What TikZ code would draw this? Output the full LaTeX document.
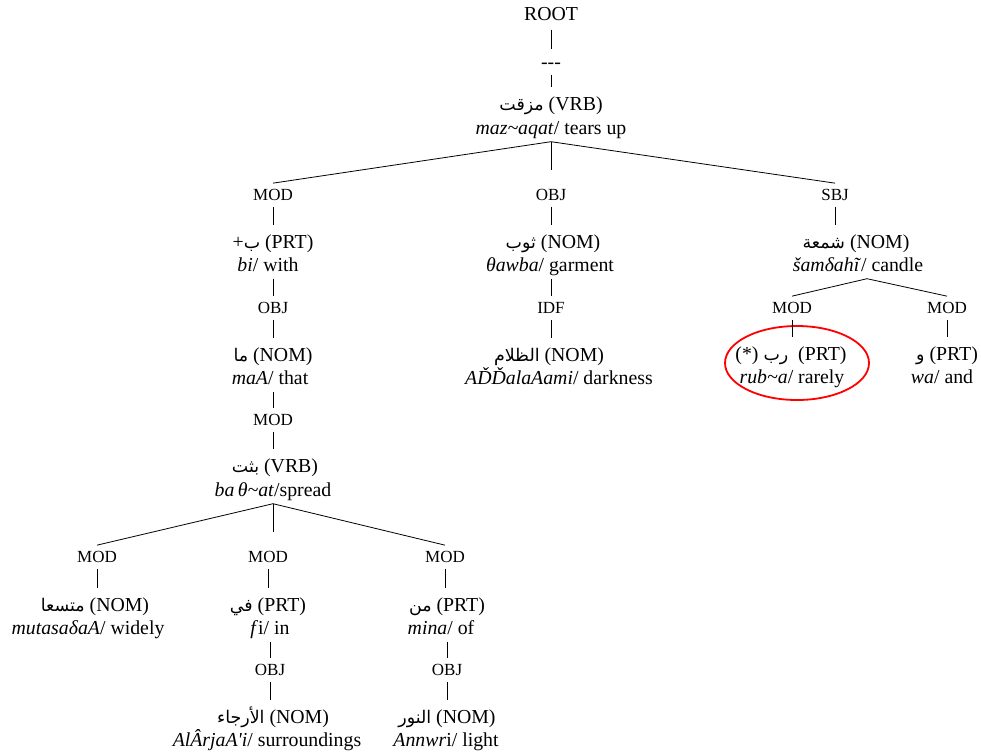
\documentclass[tikz,border=0pt]{standalone}
\usepackage{fontspec}
\setmainfont{Liberation Serif}
\newfontfamily\ar[Script=Arabic,Scale=0.88]{DejaVu Sans}
\TeXXeTstate=1
\usetikzlibrary{shapes.geometric}
\begin{document}
\begin{tikzpicture}[x=1pt,y=-1pt,
  w/.style={font=\fontsize{19.8}{23}\selectfont, inner xsep=1pt, inner ysep=6pt, text height=13pt, text depth=0pt},
  lab/.style={font=\fontsize{17}{20}\selectfont, inner xsep=1pt, inner ysep=6pt, text height=11.3pt, text depth=0pt},
  wt/.style={w, inner ysep=10pt},
  wb/.style={w, inner ysep=7pt},
  link/.style={line width=0.8pt},
  mid/.style={link, shorten >=13pt},
]
\fill[white] (0,0) rectangle (981,753);
\useasboundingbox (0,0) rectangle (981,753);

% top
\node[w, inner ysep=9pt] (root) at (551,14) {ROOT};
\node[w] (dash) at (551,62) {-{}-{}-};
\node[wt] (v1a) at (551,104) {{\ar\beginR مزقت\endR} (VRB)};
\node[wb] (v1b) at (551,128) {\textit{maz\textasciitilde aqat}/ tears up};

\node[lab] (mod1) at (273,195) {MOD};
\node[lab] (obj1) at (551,195) {OBJ};
\node[lab] (sbj) at (835,195) {SBJ};

% left branch
\node[wt] (bia) at (273,242) {+{\ar\beginR ب\endR} (PRT)};
\node[wb] (bib) at (268,265) {\textit{bi}/ with};
\node[lab] (obj2) at (273,308) {OBJ};
\node[wt] (maa) at (273,355) {{\ar\beginR ما\endR} (NOM)};
\node[wb] (mab) at (270,378) {\textit{maA}/ that};
\node[lab] (mod2) at (273,420) {MOD};
\node[wt] (bta) at (275,466) {{\ar\beginR بثت\endR} (VRB)};
\node[wb] (btb) at (273,490) {\textit{ba\,θ\textasciitilde at}/spread};

\node[lab] (mod3) at (97,557) {MOD};
\node[lab] (mod4) at (268,557) {MOD};
\node[lab] (mod5) at (445,557) {MOD};

\node[wt] (mua) at (95,605) {{\ar\beginR متسعا\endR} (NOM)};
\node[wb] (mub) at (88,628) {\textit{mutasaδaA}/ widely};
\node[wt] (fia) at (268,605) {{\ar\beginR في\endR} (PRT)};
\node[wb] (fib) at (270,628) {\textit{f}i/ in};
\node[wt] (mia) at (447,605) {{\ar\beginR من\endR} (PRT)};
\node[wb] (mib) at (441,628) {\textit{mina}/ of};

\node[lab] (obj3) at (270,670) {OBJ};
\node[lab] (obj4) at (447,670) {OBJ};
\node[wt] (ara) at (273,717) {{\ar\beginR الأرجاء\endR} (NOM)};
\node[wb] (arb) at (267,740) {\textit{AlÂrjaA\textquotesingle i}/ surroundings};
\node[wt] (ana) at (447,717) {{\ar\beginR النور\endR} (NOM)};
\node[wb] (anb) at (446,740) {\textit{Annwr}i/ light};

% middle branch
\node[wt] (tha) at (553,242) {{\ar\beginR ثوب\endR} (NOM)};
\node[wb] (thb) at (550,265) {\textit{θawba}/ garment};
\node[lab] (idf) at (551,308) {IDF};
\node[wt] (zaa) at (549,355) {{\ar\beginR الظلام\endR} (NOM)};
\node[wb] (zab) at (559,378) {\textit{AĎĎalaAami}/ darkness};

% right branch
\node[wt] (sha) at (856,242) {{\ar\beginR شمعة\endR} (NOM)};
\node[wb] (shb) at (858,265) {\textit{šamδahĩ}/ candle};
\node[lab] (mod6) at (792,308) {MOD};
\node[lab] (mod7) at (947,308) {MOD};
\node[wt] (rua) at (791,354) {(*) {\ar\beginR رب\endR}\ \ (PRT)};
\node[wb] (rub) at (792,377) {\textit{rub\textasciitilde a}/ rarely};
\node[wt] (waa) at (947,354) {{\ar\beginR و\endR} (PRT)};
\node[wb] (wab) at (942,377) {\textit{wa}/ and};
\node[draw=red, ellipse, line width=1.8pt, minimum width=144pt, minimum height=74pt, inner sep=0pt] (ring) at (797,363) {};

% connectors
\draw[link] (root.south) -- (root.south |- dash.north);
\draw[link] (dash.south) -- (dash.south |- v1a.north);
\draw[link] (v1b.south) -- (mod1.north);
\draw[mid] (v1b.south) -- (obj1.north);
\draw[link] (v1b.south) -- (sbj.north);

\draw[link] (mod1.south) -- (mod1.south |- bia.north);
\draw[link] (obj2 |- bib.south) -- (obj2.north);
\draw[link] (obj2.south) -- (obj2.south |- maa.north);
\draw[link] (mod2 |- mab.south) -- (mod2.north);
\draw[link] (mod2.south) -- (mod2.south |- bta.north);
\draw[link] (btb.south) -- (mod3.north);
\draw[mid] (btb.south) -- (btb.south |- mod4.north);
\draw[link] (btb.south) -- (mod5.north);

\draw[link] (mod3.south) -- (mod3.south |- mua.north);
\draw[link] (mod4.south) -- (mod4.south |- fia.north);
\draw[link] (mod5.south) -- (mod5.south |- mia.north);
\draw[link] (obj3 |- fib.south) -- (obj3.north);
\draw[link] (obj3.south) -- (obj3.south |- ara.north);
\draw[link] (obj4 |- mib.south) -- (obj4.north);
\draw[link] (obj4.south) -- (obj4.south |- ana.north);

\draw[link] (obj1.south) -- (obj1.south |- tha.north);
\draw[link] (idf |- thb.south) -- (idf.north);
\draw[link] (idf.south) -- (idf.south |- zaa.north);

\draw[link] (sbj.south) -- (sbj.south |- sha.north);
\draw[link] ([xshift=9pt]shb.south) -- (mod6.north);
\draw[link] ([xshift=9pt]shb.south) -- (mod7.north);
\draw[link] (mod6.south) -- (mod6.south |- rua.north);
\draw[link] (mod7.south) -- (mod7.south |- waa.north);
\end{tikzpicture}
\end{document}
